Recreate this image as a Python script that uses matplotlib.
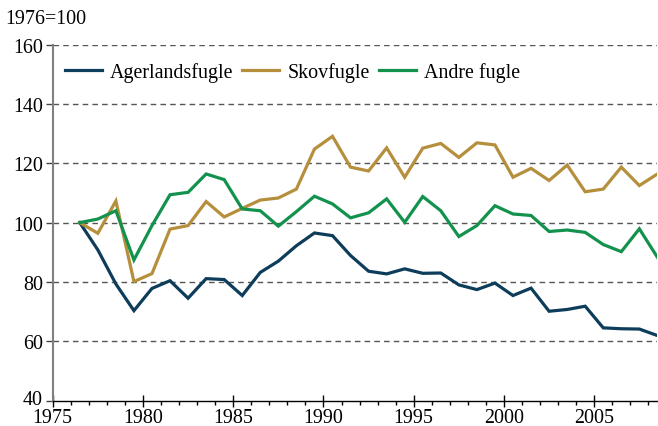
import matplotlib
matplotlib.use("Agg")
import matplotlib.pyplot as plt
from matplotlib.ticker import MultipleLocator
import matplotlib.transforms as mtransforms
import numpy as np

years = list(range(1976, 2009))
agerlandsfugle = [100, 90.8, 79.3, 70.3, 77.8, 80.4, 74.5, 81.1, 80.8, 75.4, 83.2,
                  87.0, 92.2, 96.5, 95.6, 88.9, 83.6, 82.7, 84.4, 82.9, 83.0,
                  79.0, 77.4, 79.6, 75.4, 77.9, 70.1, 70.7, 71.8, 64.5, 64.2, 64.1, 61.9]
skovfugle = [100, 96.4, 107.3, 80.1, 82.8, 97.8, 99.0, 107.1, 101.9, 104.8, 107.6,
             108.3, 111.3, 124.8, 129.1, 118.7, 117.4, 125.2, 115.3, 125.1, 126.7,
             122.0, 126.9, 126.2, 115.3, 118.3, 114.2, 119.4, 110.4, 111.3, 118.7, 112.5, 116.4]
andre_fugle = [100, 101.2, 104.0, 87.4, 99.0, 109.4, 110.2, 116.4, 114.5, 104.6, 104.0,
               98.8, 103.7, 108.9, 106.3, 101.6, 103.3, 108.0, 100.1, 108.8, 104.0,
               95.3, 99.0, 105.7, 102.9, 102.4, 97.0, 97.5, 96.7, 92.6, 90.2, 97.9, 88.3]
series_names = ["Agerlandsfugle", "Skovfugle", "Andre fugle"]
colors = ["#0d3d5a", "#b58f3c", "#13924e"]
ylabel = "1976=100"

plt.rcParams['font.family'] = ['Liberation Serif', 'DejaVu Serif']
fs = 14.4

fig = plt.figure(figsize=(6.58, 4.27), dpi=100)
ax = fig.add_axes([52.7/658, 1 - 401.5/427, (657.4-52.7)/658, (401.5-45.7)/427])

x = np.array(years) + 0.5
for vals, name, c in zip([agerlandsfugle, skovfugle, andre_fugle], series_names, colors):
    ax.plot(x, vals, color=c, lw=2.3, label=name, solid_joinstyle='miter', zorder=3)

ax.set_xlim(1975, 2008.5)
ax.set_ylim(40, 160)
ax.xaxis.set_major_locator(MultipleLocator(5))
ax.xaxis.set_minor_locator(MultipleLocator(1))
ax.yaxis.set_major_locator(MultipleLocator(20))

for v in range(60, 161, 20):
    ax.axhline(v, color='#555555', lw=1.0, ls=(0, (4, 3)), zorder=1)

for s in ['top', 'right']:
    ax.spines[s].set_visible(False)
ax.spines['left'].set_color('#808080')
ax.spines['left'].set_linewidth(1.5)
ax.spines['bottom'].set_color('black')
ax.spines['bottom'].set_linewidth(1.0)

ax.tick_params(axis='y', which='major', direction='out', length=5, width=1, color='#444444',
               labelsize=fs, pad=2)
ax.tick_params(axis='x', which='major', direction='inout', length=8, width=1, color='black',
               labelsize=fs, pad=1.5)
ax.tick_params(axis='x', which='minor', direction='out', length=3, width=1, color='black')

# nudge the lowest y label up a little so it clears the first x label
fig.canvas.draw()
for lab in ax.get_yticklabels():
    if lab.get_text() in ("40",):
        lab.set_transform(lab.get_transform() + mtransforms.ScaledTranslation(0, 3/100, fig.dpi_scale_trans))

fig.text(5/658, 1 - 19/427, ylabel, fontsize=fs, ha='left', va='center')

leg = ax.legend(loc='center left', bbox_to_anchor=(0.02, 0.923), ncol=3, frameon=False,
                fontsize=fs, handlelength=1.85, handletextpad=0.4, columnspacing=0.45,
                borderaxespad=0, borderpad=0)

fig.savefig("out.png", dpi=100)
